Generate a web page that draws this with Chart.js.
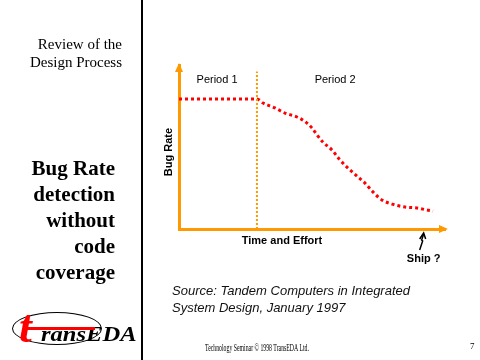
<!DOCTYPE html>
<html>
<head>
<meta charset="utf-8">
<script src="https://cdn.jsdelivr.net/npm/chart.js@4/dist/chart.umd.min.js"></script>
<style>
  html, body { margin: 0; padding: 0; background: #fff; }
  #slide { position: relative; width: 480px; height: 360px; overflow: hidden; }
  #chart { position: absolute; left: 0; top: 0; width: 480px; height: 360px; }
  .t { position: absolute; white-space: nowrap; color: #000; }
  .serif { font-family: "Liberation Serif", "Times New Roman", serif; }
  .sans { font-family: "Liberation Sans", Arial, sans-serif; }
  #divider { position: absolute; left: 141px; top: 0; width: 2px; height: 360px; background: #000; }
  #review { right: 358px; top: 35px; font-size: 15px; line-height: 18px; text-align: right; }
  #heading { right: 365px; top: 155px; font-size: 21px; line-height: 26px; font-weight: bold; text-align: right; }
  #source { left: 172px; top: 282px; font-size: 13px; line-height: 17px; font-style: italic; color: #111; }
  #footer { left: 205px; top: 342px; font-size: 10px; transform-origin: left top; transform: scaleX(0.58); }
  #page { left: 470px; top: 341px; font-size: 9px; }
  #logoRing { position: absolute; left: 12px; top: 312px; width: 88px; height: 31px; border: 1px solid #000; border-radius: 50%; }
  #logoT { left: 19px; top: 304px; font-size: 46px; line-height: 46px; font-weight: bold; font-style: italic; color: #f00; }
  #logoText { left: 41px; top: 322px; font-size: 21px; line-height: 24px; font-weight: bold; font-style: italic; transform-origin: left top; transform: scaleX(1.17); }
  #logoBar { position: absolute; left: 25px; top: 327px; width: 70px; height: 3px; background: #f00; }
</style>
</head>
<body>
<div id="slide">
  <canvas id="chart" width="480" height="360"></canvas>
  <div id="divider"></div>
  <div id="review" class="t serif">Review of the<br>Design Process</div>
  <div id="heading" class="t serif">Bug Rate<br>detection<br>without<br>code<br>coverage</div>
  <div id="source" class="t sans">Source: Tandem Computers in Integrated<br>System Design, January 1997</div>
  <div id="footer" class="t serif">Technology Seminar © 1998 TransEDA Ltd.</div>
  <div id="page" class="t serif">7</div>
  <div id="logoRing"></div>
  <div id="logoText" class="t serif">ransEDA</div>
  <div id="logoBar"></div>
  <div id="logoT" class="t serif">t</div>
</div>
<script>
// time & effort (0..100) against bug rate (0..100)
const effort = [0, 29.3, 31.6, 36.1, 39.8, 44.4, 48.1, 50.0, 51.9, 54.1, 57.5, 60.5, 63.5, 66.9, 69.9, 72.9, 76.3, 80.1, 85.0, 89.5, 93.2, 95.5];
const bugRate = [79.3, 79.3, 76.8, 73.8, 70.7, 68.3, 64.6, 61.6, 57.3, 53.0, 48.2, 42.1, 37.2, 32.3, 28.0, 22.6, 17.7, 15.2, 13.4, 12.8, 11.6, 11.0];
const periodSplit = 29.3;
const periodTop = 96;
const periodLabels = ['Period 1', 'Period 2'];
const periodLabelX = [14.3, 58.7];
const periodLabelY = 91;
const shipAt = 91.6;
const axisTitles = { x: 'Time and Effort', y: 'Bug Rate' };

const ORANGE = '#ff9900';
const RED = '#ff0000';

const curve = effort.map((x, i) => ({ x, y: bugRate[i] }));
const split = [{ x: periodSplit, y: 0 }, { x: periodSplit, y: periodTop }];

const decorations = {
  id: 'decorations',
  afterDraw(chart) {
    const { ctx, chartArea: a, scales: { x, y } } = chart;
    ctx.save();
    // axis arrowheads
    ctx.fillStyle = ORANGE;
    ctx.beginPath();
    ctx.moveTo(a.right + 3, a.bottom);
    ctx.lineTo(a.right - 6, a.bottom - 4);
    ctx.lineTo(a.right - 6, a.bottom + 4);
    ctx.closePath();
    ctx.fill();
    ctx.beginPath();
    ctx.moveTo(a.left, a.top - 2);
    ctx.lineTo(a.left - 4, a.top + 7);
    ctx.lineTo(a.left + 4, a.top + 7);
    ctx.closePath();
    ctx.fill();

    // period labels
    ctx.fillStyle = '#000';
    ctx.font = '11px "Liberation Sans", Arial, sans-serif';
    ctx.textAlign = 'center';
    ctx.textBaseline = 'middle';
    periodLabels.forEach((lbl, i) => {
      ctx.fillText(lbl, x.getPixelForValue(periodLabelX[i]), y.getPixelForValue(periodLabelY));
    });

    // axis titles
    ctx.font = 'bold 11px "Liberation Sans", Arial, sans-serif';
    ctx.fillText(axisTitles.x, a.left + 103, a.bottom + 12);
    ctx.save();
    ctx.translate(a.left - 10, a.top + 87);
    ctx.rotate(-Math.PI / 2);
    ctx.fillText(axisTitles.y, 0, 0);
    ctx.restore();

    // "Ship ?" marker
    const sx = x.getPixelForValue(shipAt);
    ctx.strokeStyle = '#000';
    ctx.lineWidth = 1.5;
    ctx.beginPath();
    ctx.moveTo(sx - 3, a.bottom + 21);
    ctx.lineTo(sx, a.bottom + 12);
    ctx.lineTo(sx - 1, a.bottom + 11);
    ctx.lineTo(sx + 1, a.bottom + 5);
    ctx.stroke();
    ctx.beginPath();
    ctx.moveTo(sx - 3, a.bottom + 10);
    ctx.lineTo(sx + 1, a.bottom + 4);
    ctx.lineTo(sx + 3, a.bottom + 10);
    ctx.stroke();
    ctx.fillText('Ship ?', sx + 1, a.bottom + 30);
    ctx.restore();
  }
};

new Chart(document.getElementById('chart'), {
  type: 'scatter',
  data: {
    datasets: [
      {
        data: split,
        showLine: true,
        borderColor: ORANGE,
        borderWidth: 2,
        borderDash: [2, 2],
        pointRadius: 0,
      },
      {
        data: curve,
        showLine: true,
        borderColor: RED,
        borderWidth: 3,
        borderDash: [3, 3],
        borderCapStyle: 'butt',
        cubicInterpolationMode: 'monotone',
        pointRadius: 0,
      },
    ],
  },
  options: {
    responsive: false,
    animation: false,
    layout: { padding: { left: 171, top: 65, right: 35, bottom: 123 } },
    plugins: { legend: { display: false }, tooltip: { enabled: false } },
    scales: {
      x: {
        type: 'linear', min: 0, max: 100,
        grid: { display: false },
        border: { display: true, color: ORANGE, width: 3 },
        ticks: { display: false },
      },
      y: {
        type: 'linear', min: 0, max: 100,
        grid: { display: false },
        border: { display: true, color: ORANGE, width: 3 },
        ticks: { display: false },
      },
    },
  },
  plugins: [decorations],
});
</script>
</body>
</html>
